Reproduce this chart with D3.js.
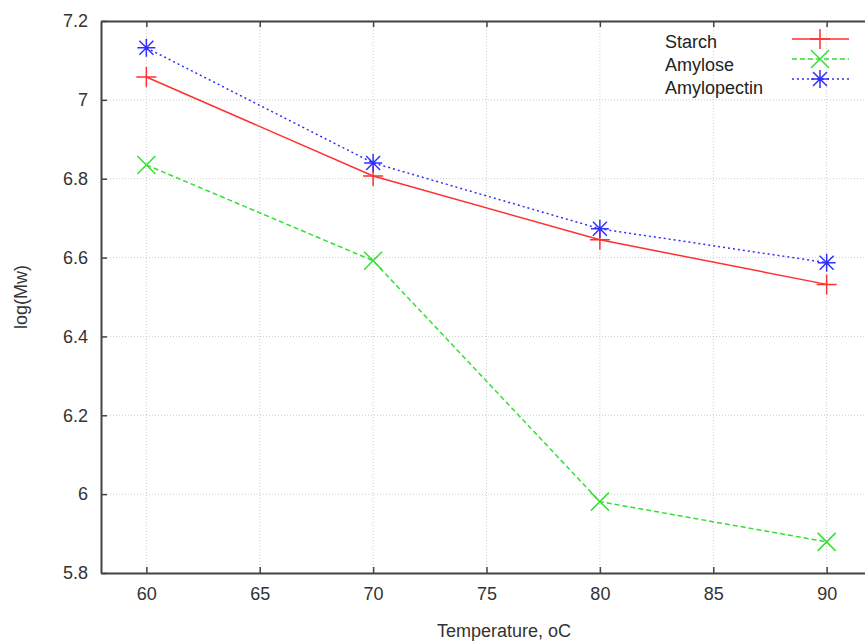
<!DOCTYPE html>
<html><head><meta charset="utf-8">
<script src="https://cdn.jsdelivr.net/npm/d3@7"></script>
<style>body{margin:0;background:#fff}text{font-family:"Liberation Sans",Arial,sans-serif}</style>
</head><body><svg id="c" width="865" height="642"></svg>
<script>
const temps = [60, 70, 80, 90];
const starch = [7.058, 6.807, 6.645, 6.532];
const amylose = [6.835, 6.592, 5.981, 5.879];
const amylopectin = [7.132, 6.840, 6.673, 6.587];
const xTicks = [60, 65, 70, 75, 80, 85, 90];
const yTicks = [5.8, 6, 6.2, 6.4, 6.6, 6.8, 7, 7.2];
const seriesNames = ["Starch", "Amylose", "Amylopectin"];
const seriesColors = ["#ff3030", "#33e033", "#3030ff"];

const svg = d3.select("#c");
const L = 101, T = 21, R = 872, B = 573;
const x = d3.scaleLinear().domain([58, 92]).range([L, R]);
const y = d3.scaleLinear().domain([5.8, 7.2]).range([B, T]);
const axisCol = "#444";
const FONT = "'Liberation Sans',Arial,sans-serif";

// grid
const g = svg.append("g");
xTicks.forEach(t => g.append("line").attr("x1", x(t)).attr("x2", x(t)).attr("y1", T).attr("y2", B)
  .attr("stroke", "#ccc").attr("stroke-width", 1).attr("stroke-dasharray", "1,2"));
yTicks.forEach(t => g.append("line").attr("x1", L).attr("x2", R).attr("y1", y(t)).attr("y2", y(t))
  .attr("stroke", "#ccc").attr("stroke-width", 1).attr("stroke-dasharray", "1,2"));

// axes
const ax = svg.append("g").attr("transform", `translate(0,${B})`)
  .call(d3.axisBottom(x).tickValues(xTicks).tickSizeInner(-6).tickSizeOuter(0).tickPadding(14));
const ay = svg.append("g").attr("transform", `translate(${L},0)`)
  .call(d3.axisLeft(y).tickValues(yTicks).tickFormat(d3.format("~g")).tickSizeInner(-6).tickSizeOuter(0).tickPadding(13));
const at = svg.append("g").attr("transform", `translate(0,${T})`)
  .call(d3.axisTop(x).tickValues(xTicks).tickSizeInner(-6).tickSizeOuter(0).tickFormat(""));
[ax, ay, at].forEach(a => {
  a.select(".domain").attr("stroke", axisCol).attr("stroke-width", 2);
  a.selectAll(".tick line").attr("stroke", axisCol).attr("stroke-width", 1.5);
  a.selectAll("text").attr("fill", "#333").style("font-size", "18px").style("font-family", FONT);
});

// titles
svg.append("text").attr("x", 504).attr("y", 637).attr("text-anchor", "middle")
  .attr("fill", "#333").style("font-size", "18px").text("Temperature, oC");
svg.append("text").attr("transform", "translate(27,297) rotate(-90)").attr("text-anchor", "middle")
  .attr("fill", "#333").style("font-size", "18px").text("log(Mw)");

// markers
function marker(sel, type, cx, cy, col) {
  const s = sel.append("g").attr("transform", `translate(${cx},${cy})`).attr("stroke", col).attr("stroke-width", 1.5).attr("fill", "none");
  if (type === 0) {
    s.append("path").attr("d", "M-10,0H10M0,-10V10");
  } else if (type === 1) {
    s.append("path").attr("d", "M-9,-9L9,9M-9,9L9,-9");
  } else {
    s.append("path").attr("d", "M-9,0H9M0,-9V9M-7,-7L7,7M-7,7L7,-7");
  }
}

const data = [starch, amylose, amylopectin];
const dashes = [null, "5,3", "2,3"];
const line = d3.line().x((d, i) => x(temps[i])).y(d => y(d));
data.forEach((vals, k) => {
  svg.append("path").datum(vals).attr("d", line).attr("fill", "none")
    .attr("stroke", seriesColors[k]).attr("stroke-width", 1.5).attr("stroke-dasharray", dashes[k]);
  vals.forEach((v, i) => marker(svg, k, x(temps[i]), y(v), seriesColors[k]));
});

// legend
const legTextY = [42, 65, 88];
const legLineY = [39, 59, 79];
seriesNames.forEach((n, k) => {
  svg.append("text").attr("x", 665).attr("y", legTextY[k] + 6).attr("fill", "#222").style("font-size", "18px").text(n);
  svg.append("line").attr("x1", 792).attr("x2", 849).attr("y1", legLineY[k]).attr("y2", legLineY[k])
    .attr("stroke", seriesColors[k]).attr("stroke-width", 1.5).attr("stroke-dasharray", dashes[k]);
  marker(svg, k, 820, legLineY[k], seriesColors[k]);
});
</script></body></html>
